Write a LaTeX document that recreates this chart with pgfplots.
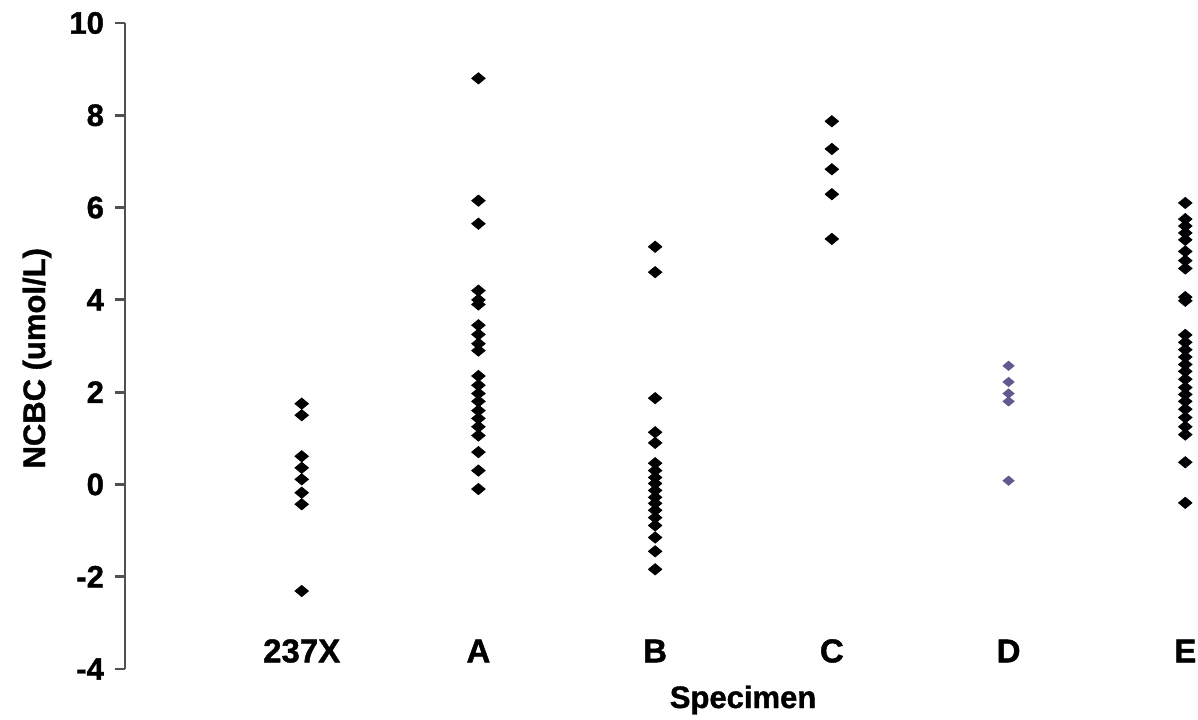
\documentclass[border=0pt]{standalone}
\usepackage{fontspec}
\setmainfont{Liberation Sans}[BoldFeatures={FakeBold=1.2}]
\usepackage{pgfplots}
\pgfplotsset{compat=1.18}
\definecolor{axisgray}{RGB}{80,80,80}
\definecolor{dpurple}{RGB}{100,88,145}
\begin{document}
\begin{tikzpicture}
\begin{axis}[
  scale only axis,
  width=536.5pt, height=323pt,
  xmin=0, xmax=6.072,
  ymin=-4, ymax=10,
  axis y line*=left,
  axis x line*=bottom,
  x axis line style={draw=none},
  y axis line style={draw=axisgray, line width=1.4pt},
  xtick={1,2,3,4,5,6},
  xticklabels={237X,A,B,C,D,E},
  xtick style={draw=none},
  major tick length=5pt,
  tick align=outside,
  ytick={-4,-2,0,2,4,6,8,10},
  ytick style={draw=axisgray, line width=1.4pt},
  /pgf/number format/assume math mode=true,
  yticklabel style={font=\bfseries\fontsize{15.5}{15.5}\selectfont, xshift=-2pt},
  xticklabel style={font=\bfseries\fontsize{16.5}{16.5}\selectfont, anchor=center, yshift=14pt},
  every axis x label/.style={at={(rel axis cs:0.576,0)}, anchor=center, yshift=-15.5pt},
  every axis y label/.style={at={(rel axis cs:0,0.481)}, xshift=-44pt, rotate=90, anchor=center},
  xlabel={\bfseries\fontsize{15.5}{15.5}\selectfont Specimen},
  ylabel={\bfseries\fontsize{15.5}{15.5}\selectfont NCBC (umol/L)},
  clip=false,
]
% 237X
\addplot[only marks, mark=diamond*, mark size=2.8pt, mark options={xscale=1.6, fill=black, draw=black}] coordinates {
(1,1.75) (1,1.5) (1,0.61) (1,0.36) (1,0.11) (1,-0.18) (1,-0.43) (1,-2.31)
};
% A
\addplot[only marks, mark=diamond*, mark size=2.8pt, mark options={xscale=1.6, fill=black, draw=black}] coordinates {
(2,8.8) (2,6.15) (2,5.65) (2,4.2) (2,4.0) (2,3.9) (2,3.45) (2,3.25) (2,3.05) (2,2.9)
(2,2.35) (2,2.15) (2,1.97) (2,1.8) (2,1.6) (2,1.43) (2,1.25) (2,1.06) (2,0.7) (2,0.3) (2,-0.1)
};
% B
\addplot[only marks, mark=diamond*, mark size=2.8pt, mark options={xscale=1.6, fill=black, draw=black}] coordinates {
(3,5.15) (3,4.6) (3,1.87) (3,1.13) (3,0.9) (3,0.46) (3,0.3) (3,0.15) (3,0.02) (3,-0.13)
(3,-0.28) (3,-0.41) (3,-0.56) (3,-0.72) (3,-0.89) (3,-1.15) (3,-1.45) (3,-1.84)
};
% C
\addplot[only marks, mark=diamond*, mark size=2.8pt, mark options={xscale=1.6, fill=black, draw=black}] coordinates {
(4,7.87) (4,7.27) (4,6.83) (4,6.29) (4,5.32)
};
% D
\addplot[only marks, mark=diamond*, mark size=2.3pt, mark options={xscale=1.6, fill=dpurple, draw=dpurple}] coordinates {
(5,2.57) (5,2.22) (5,1.97) (5,1.8) (5,0.08)
};
% E
\addplot[only marks, mark=diamond*, mark size=2.8pt, mark options={xscale=1.6, fill=black, draw=black}] coordinates {
(6,6.1) (6,5.75) (6,5.6) (6,5.45) (6,5.3) (6,5.05) (6,4.85) (6,4.68) (6,4.06) (6,3.98)
(6,3.24) (6,3.08) (6,2.92) (6,2.76) (6,2.6) (6,2.45) (6,2.28) (6,2.1) (6,1.95) (6,1.8)
(6,1.63) (6,1.45) (6,1.25) (6,1.08) (6,0.48) (6,-0.4)
};
\coordinate (sw) at (rel axis cs:0,0);
\coordinate (ne) at (rel axis cs:1,1);
\end{axis}
\pgfresetboundingbox
\path[use as bounding box] ([xshift=-62.5pt,yshift=-25.5pt]sw) rectangle ([yshift=11.5pt]ne);
\end{tikzpicture}
\end{document}
